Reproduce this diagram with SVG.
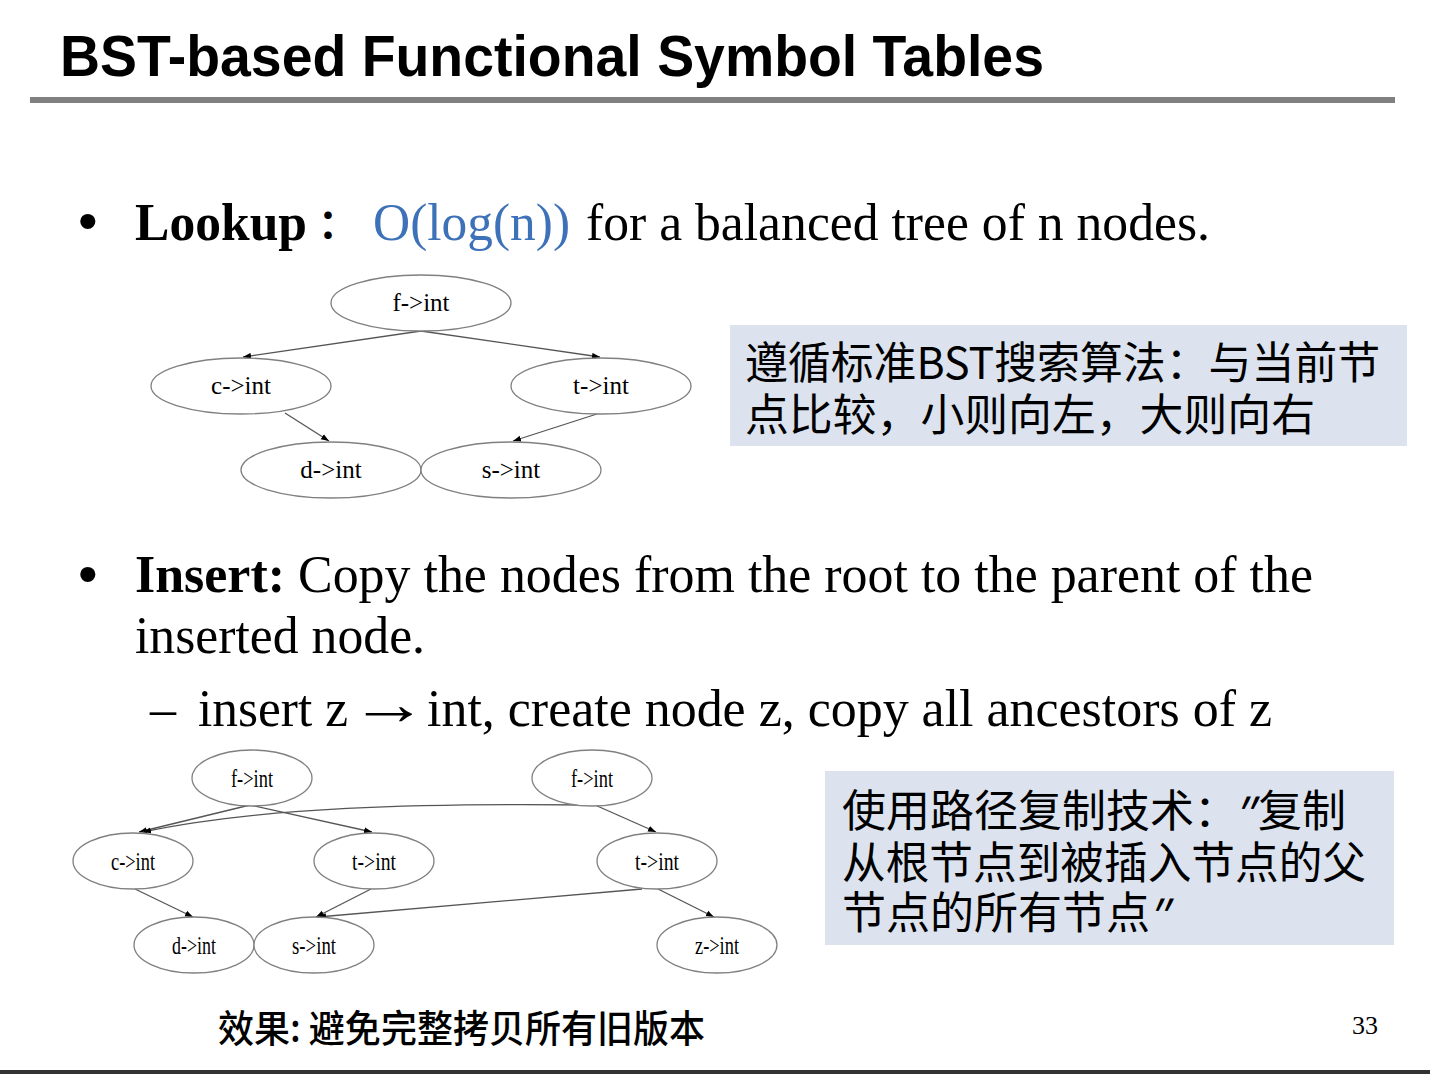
<svg xmlns="http://www.w3.org/2000/svg" width="1430" height="1074" viewBox="0 0 1430 1074">
<style>
.ser{font-family:"Liberation Serif","Times New Roman",serif;fill:#000}
.cjk{font-family:"Noto Sans CJK SC","Noto Sans CJK JP",sans-serif;fill:#000}
.node ellipse{fill:#fff;stroke:#808080;stroke-width:1.3}
.n1{font-family:"Liberation Serif","Times New Roman",serif;font-size:25px;text-anchor:middle}
.n2{font-family:"Liberation Serif","Times New Roman",serif;font-size:26px;text-anchor:middle}
.edge{fill:none;stroke:#555;stroke-width:1.3;marker-end:url(#ah)}
.box{fill:#dce3ee}
.bul{font-family:"Liberation Sans",Arial,sans-serif;font-size:56px}
.q{font-family:"Noto Sans CJK SC",sans-serif;font-size:46px}
</style>
<defs>
<marker id="ah" markerWidth="9" markerHeight="7" refX="8" refY="3.5" orient="auto" markerUnits="userSpaceOnUse">
<path d="M0,0.5 L8,3.5 L0,6.5 Z" fill="#000"/>
</marker>
</defs>
<rect width="1430" height="1074" fill="#fff"/>
<g id="title">
<text x="60" y="76" font-family="Liberation Sans, Arial, sans-serif" font-weight="bold" font-size="57" textLength="984" lengthAdjust="spacingAndGlyphs">BST-based Functional Symbol Tables</text>
<rect x="30" y="97" width="1365" height="6" fill="#808080"/>
</g>
<g id="lookup">
<text class="bul" x="78" y="240">•</text>
<text class="ser" x="135" y="240" font-size="52" font-weight="bold" textLength="172" lengthAdjust="spacingAndGlyphs">Lookup</text>
<text class="cjk" x="318" y="238" font-size="40" font-weight="bold">：</text>
<text class="ser" x="373" y="240" font-size="52" style="fill:#3d72b8" textLength="197" lengthAdjust="spacingAndGlyphs">O(log(n))</text>
<text class="ser" x="586" y="240" font-size="52" textLength="624" lengthAdjust="spacingAndGlyphs">for a balanced tree of n nodes.</text>
</g>
<g id="connectors1">
<line class="edge" x1="421" y1="331" x2="243" y2="357"/>
<line class="edge" x1="421" y1="331" x2="600" y2="357"/>
<line class="edge" x1="285" y1="413" x2="329" y2="441"/>
<line class="edge" x1="600" y1="413" x2="513" y2="441"/>
</g>
<g id="tree1">
<g id="t1-f" class="node"><ellipse cx="421" cy="303" rx="90" ry="28"/><text class="n1" x="421" y="311">f-&gt;int</text></g>
<g id="t1-c" class="node"><ellipse cx="241" cy="386" rx="90" ry="28"/><text class="n1" x="241" y="394">c-&gt;int</text></g>
<g id="t1-t" class="node"><ellipse cx="601" cy="386" rx="90" ry="28"/><text class="n1" x="601" y="394">t-&gt;int</text></g>
<g id="t1-d" class="node"><ellipse cx="331" cy="470" rx="90" ry="28"/><text class="n1" x="331" y="478">d-&gt;int</text></g>
<g id="t1-s" class="node"><ellipse cx="511" cy="470" rx="90" ry="28"/><text class="n1" x="511" y="478">s-&gt;int</text></g>
</g>
<g id="note1">
<rect class="box" x="730" y="325" width="677" height="121"/>
<text class="cjk" font-size="44"><tspan x="745" y="379" textLength="635" lengthAdjust="spacingAndGlyphs">遵循标准BST搜索算法：与当前节</tspan><tspan x="745" y="431" textLength="570" lengthAdjust="spacingAndGlyphs">点比较，小则向左，大则向右</tspan></text>
</g>
<g id="insert">
<text class="bul" x="78" y="593">•</text>
<text class="ser" x="135" y="592" font-size="52" font-weight="bold" textLength="150" lengthAdjust="spacingAndGlyphs">Insert:</text>
<text class="ser" x="298" y="592" font-size="52" textLength="1015" lengthAdjust="spacingAndGlyphs">Copy the nodes from the root to the parent of the</text>
<text class="ser" x="135" y="653" font-size="52" textLength="290" lengthAdjust="spacingAndGlyphs">inserted node.</text>
<text class="ser" x="150" y="726" font-size="52">–</text>
<text class="ser" x="198" y="726" font-size="52" textLength="150" lengthAdjust="spacingAndGlyphs">insert z</text>
<text class="ser" font-size="52" transform="translate(350,724) scale(1.5,1.15)">→</text>
<text class="ser" x="427" y="726" font-size="52" textLength="845" lengthAdjust="spacingAndGlyphs">int, create node z, copy all ancestors of z</text>
</g>
<g id="connectors2">
<line class="edge" x1="250" y1="805" x2="139" y2="832"/>
<line class="edge" x1="250" y1="805" x2="372" y2="832"/>
<path class="edge" d="M593,805 C420,803 260,807 143,832"/>
<line class="edge" x1="595" y1="805" x2="656" y2="832"/>
<line class="edge" x1="135" y1="889" x2="193" y2="917"/>
<line class="edge" x1="371" y1="889" x2="316" y2="917"/>
<line class="edge" x1="642" y1="889" x2="318" y2="917"/>
<line class="edge" x1="658" y1="889" x2="714" y2="917"/>
</g>
<g id="tree2">
<g id="t2-f1" class="node"><ellipse cx="252" cy="778" rx="60" ry="28"/><text class="n2" x="252" y="787" textLength="42" lengthAdjust="spacingAndGlyphs">f-&gt;int</text></g>
<g id="t2-f2" class="node"><ellipse cx="592" cy="778" rx="60" ry="28"/><text class="n2" x="592" y="787" textLength="42" lengthAdjust="spacingAndGlyphs">f-&gt;int</text></g>
<g id="t2-c" class="node"><ellipse cx="133" cy="861" rx="60" ry="28"/><text class="n2" x="133" y="870" textLength="44" lengthAdjust="spacingAndGlyphs">c-&gt;int</text></g>
<g id="t2-t1" class="node"><ellipse cx="374" cy="861" rx="60" ry="28"/><text class="n2" x="374" y="870" textLength="44" lengthAdjust="spacingAndGlyphs">t-&gt;int</text></g>
<g id="t2-t2" class="node"><ellipse cx="657" cy="861" rx="60" ry="28"/><text class="n2" x="657" y="870" textLength="44" lengthAdjust="spacingAndGlyphs">t-&gt;int</text></g>
<g id="t2-d" class="node"><ellipse cx="194" cy="945" rx="60" ry="28"/><text class="n2" x="194" y="954" textLength="44" lengthAdjust="spacingAndGlyphs">d-&gt;int</text></g>
<g id="t2-s" class="node"><ellipse cx="314" cy="945" rx="60" ry="28"/><text class="n2" x="314" y="954" textLength="44" lengthAdjust="spacingAndGlyphs">s-&gt;int</text></g>
<g id="t2-z" class="node"><ellipse cx="717" cy="945" rx="60" ry="28"/><text class="n2" x="717" y="954" textLength="44" lengthAdjust="spacingAndGlyphs">z-&gt;int</text></g>
</g>
<g id="note2">
<rect class="box" x="825" y="771" width="569" height="174"/>
<text class="cjk" font-size="44"><tspan x="842" y="827">使用路径复制技术：</tspan><tspan x="1258" y="827">复制</tspan><tspan x="842" y="879" textLength="524" lengthAdjust="spacingAndGlyphs">从根节点到被插入节点的父</tspan><tspan x="842" y="929">节点的所有节点</tspan></text>
<text class="q" transform="translate(1230,832) skewX(-18)">″</text>
<text class="q" transform="translate(1144,934) skewX(-18)">″</text>
</g>
<g id="footer">
<text class="cjk" x="218" y="1042" font-size="38" font-weight="500" textLength="487" lengthAdjust="spacingAndGlyphs">效果: 避免完整拷贝所有旧版本</text>
<text class="ser" x="1352" y="1034" font-size="26">33</text>
<rect x="0" y="1070" width="1430" height="4" fill="#333"/>
</g>
</svg>
